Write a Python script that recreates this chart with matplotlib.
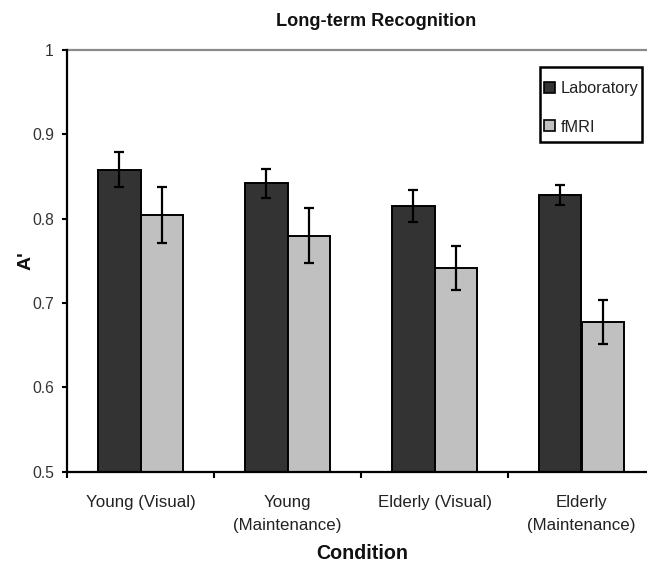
import matplotlib
matplotlib.use("Agg")
import matplotlib.pyplot as plt
from matplotlib.patches import Patch, Rectangle
import numpy as np

categories = ["Young (Visual)", "Young\n(Maintenance)", "Elderly (Visual)", "Elderly\n(Maintenance)"]
series_names = ["Laboratory", "fMRI"]
lab_values = [0.858, 0.842, 0.815, 0.828]
lab_errors = [0.021, 0.017, 0.019, 0.012]
fmri_values = [0.804, 0.780, 0.742, 0.677]
fmri_errors = [0.033, 0.033, 0.026, 0.026]
y_ticks = [0.5, 0.6, 0.7, 0.8, 0.9, 1.0]
y_tick_labels = ["0.5", "0.6", "0.7", "0.8", "0.9", "1"]

W, H = 647, 568
fig = plt.figure(figsize=(W / 100, H / 100), dpi=100)
fig.patch.set_facecolor("white")

left_px, right_px, top_px, bottom_px = 67, 655, 50, 471.7
ax = fig.add_axes([left_px / W, 1 - bottom_px / H, (right_px - left_px) / W, (bottom_px - top_px) / H])

regular = ["Liberation Sans", "DejaVu Sans"]

x = np.arange(len(categories))
bw = 0.2925
dark = "#333333"
light = "#c0c0c0"
ekw = dict(ecolor="black", elinewidth=1.6, capsize=3.6, capthick=1.6)
ax.bar(x - bw / 2, lab_values, bw, bottom=0, color=dark, edgecolor="black", linewidth=1.4,
       yerr=lab_errors, error_kw=ekw, zorder=2)
ax.bar(x + bw / 2, fmri_values, bw, bottom=0, color=light, edgecolor="black", linewidth=1.4,
       yerr=fmri_errors, error_kw=ekw, zorder=2)

ax.set_xlim(-0.5, len(categories) - 0.5)
ax.set_ylim(0.5, 1.0)

ax.axhline(1.0, color="#8a8a8a", linewidth=1.6, zorder=1, clip_on=False)

for s in ["top", "right"]:
    ax.spines[s].set_visible(False)
for s in ["left", "bottom"]:
    ax.spines[s].set_linewidth(1.6)
    ax.spines[s].set_color("black")

ax.set_yticks(y_ticks)
ax.set_yticklabels(y_tick_labels, family=regular, fontsize=11.3, color="#333333")
ax.tick_params(axis="y", direction="out", length=3.6, width=1.5, pad=5.8)

ax.set_xticks(np.arange(len(categories) + 1) - 0.5)
ax.set_xticklabels([])
ax.tick_params(axis="x", which="major", direction="out", length=4.3, width=1.5)
ax.set_xticks(x, minor=True)
ax.set_xticklabels(categories, minor=True, family=regular, fontsize=12.2, color="#222222", linespacing=1.6)
ax.tick_params(axis="x", which="minor", length=0, pad=17)

fig.text(376 / W, 1 - 26 / H, "Long-term Recognition", ha="center", va="baseline",
         family=regular, fontsize=13.1, fontweight="bold", color="#111111")
fig.text(362 / W, 1 - 559 / H, "Condition", ha="center", va="baseline",
         family=regular, fontsize=14.2, fontweight="bold", color="#111111")
fig.text(26 / W, 1 - 261 / H, "A'", ha="center", va="center", rotation=90,
         family=regular, fontsize=14, fontweight="bold", color="#111111")

# legend frame drawn separately to match the box proportions
fig.add_artist(Rectangle((540 / W, 1 - 142 / H), (642 - 540) / W, (142 - 67) / H,
                         transform=fig.transFigure, facecolor="white", edgecolor="black",
                         linewidth=1.8, zorder=5))
handles = [Patch(facecolor=dark, edgecolor="black", linewidth=1.2),
           Patch(facecolor=light, edgecolor="black", linewidth=1.2)]
leg = fig.legend(handles, series_names, loc="upper left",
                 bbox_to_anchor=(544 / W, 1 - 81 / H), bbox_transform=fig.transFigure,
                 prop={"family": regular, "size": 11.7}, frameon=False,
                 handlelength=0.68, handleheight=0.68, handletextpad=0.37,
                 borderpad=0, labelspacing=1.45, borderaxespad=0)
leg.set_zorder(6)
for t in leg.get_texts():
    t.set_color("#222222")

fig.savefig("out.png", dpi=100, facecolor="white")
